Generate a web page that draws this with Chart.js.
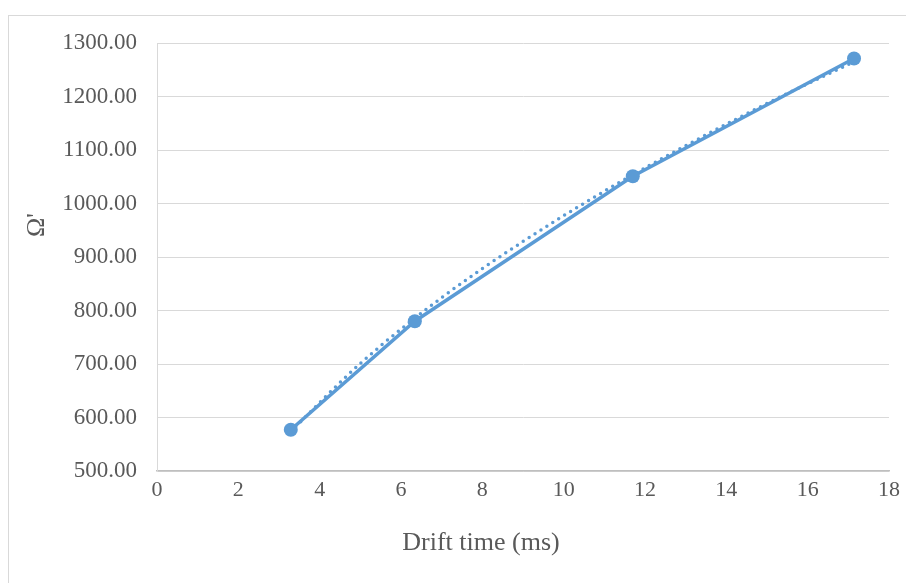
<!DOCTYPE html>
<html>
<head>
<meta charset="utf-8">
<title>Drift time vs Ω'</title>
<script src="https://cdn.jsdelivr.net/npm/chart.js@4.4.1/dist/chart.umd.min.js"></script>
<style>
  html, body { margin: 0; padding: 0; background: #fff; }
  #chart { display: block; }
</style>
</head>
<body>
<canvas id="chart" width="906" height="583"></canvas>
<script>
// --- Data ---
const driftTime = [3.29, 6.34, 11.70, 17.14];
const omega = [577, 780, 1051, 1271];

// dotted trend line
const trendX = [3.29, 5, 7, 9, 11, 13, 15, 17.14];
const trendY = [574, 701, 824, 929, 1023, 1108, 1187, 1265];

const xTicks = [0, 2, 4, 6, 8, 10, 12, 14, 16, 18];
const yTicks = [500, 600, 700, 800, 900, 1000, 1100, 1200, 1300];

const xTitle = 'Drift time (ms)';
const yTitle = "Ω'";

// --- Styles ---
const blue = '#5b9bd5';
const textGray = '#595959';
const gridGray = '#d9d9d9';
const serif = "'Liberation Serif', 'Times New Roman', serif";

const toPoints = (xs, ys) => xs.map((x, i) => ({ x, y: ys[i] }));

// outer frame + axis titles (Excel puts them off the plot centre)
const framePlugin = {
  id: 'frame',
  beforeDraw(chart) {
    const ctx = chart.ctx;
    ctx.save();
    ctx.fillStyle = '#fff';
    ctx.fillRect(0, 0, chart.width, chart.height);
    ctx.strokeStyle = gridGray;
    ctx.lineWidth = 1;
    ctx.strokeRect(8.5, 15.5, 2000, 2000);
    ctx.restore();
  },
  afterDraw(chart) {
    const ctx = chart.ctx;
    ctx.save();
    ctx.font = `26px ${serif}`;
    ctx.fillStyle = textGray;
    ctx.textAlign = 'center';
    ctx.textBaseline = 'middle';
    ctx.fillText(xTitle, 481, 543);
    ctx.translate(37, 225);
    ctx.rotate(-Math.PI / 2);
    ctx.fillText(yTitle, 0, 0);
    ctx.restore();
  }
};

function init() {
  const ctx = document.getElementById('chart').getContext('2d');

  new Chart(ctx, {
    type: 'scatter',
    data: {
      datasets: [
        {
          label: "Ω'",
          data: toPoints(driftTime, omega),
          showLine: true,
          borderColor: blue,
          backgroundColor: blue,
          borderWidth: 3.5,
          pointRadius: 7,
          pointHoverRadius: 7,
          pointBorderWidth: 0
        },
        {
          label: 'Trend',
          data: toPoints(trendX, trendY),
          showLine: true,
          borderColor: blue,
          borderWidth: 3.5,
          borderDash: [0, 7],
          borderCapStyle: 'round',
          cubicInterpolationMode: 'monotone',
          pointRadius: 0
        }
      ]
    },
    options: {
      responsive: false,
      animation: false,
      devicePixelRatio: 1,
      layout: { padding: { left: 0, top: 43, right: 15, bottom: 0 } },
      plugins: {
        legend: { display: false },
        tooltip: { enabled: false }
      },
      scales: {
        x: {
          type: 'linear',
          min: xTicks[0],
          max: xTicks[xTicks.length - 1],
          afterFit: (scale) => { scale.height = 112; },
          afterBuildTicks: (scale) => { scale.ticks = xTicks.map(v => ({ value: v })); },
          grid: { display: false, drawTicks: false },
          border: { display: true, color: '#bfbfbf', width: 1.5 },
          ticks: {
            color: textGray,
            font: { family: serif, size: 22 },
            padding: 6,
            maxRotation: 0
          },
          title: { display: false }
        },
        y: {
          type: 'linear',
          min: yTicks[0],
          max: yTicks[yTicks.length - 1],
          afterFit: (scale) => { scale.width = 157; },
          afterBuildTicks: (scale) => { scale.ticks = yTicks.map(v => ({ value: v })); },
          grid: { color: gridGray, lineWidth: 1, drawTicks: false },
          border: { display: true, color: gridGray, width: 1 },
          ticks: {
            color: textGray,
            font: { family: serif, size: 23 },
            padding: 20,
            callback: (v) => Number(v).toFixed(2)
          },
          title: { display: false }
        }
      }
    },
    plugins: [framePlugin]
  });
}

document.addEventListener('DOMContentLoaded', init);
</script>
</body>
</html>
